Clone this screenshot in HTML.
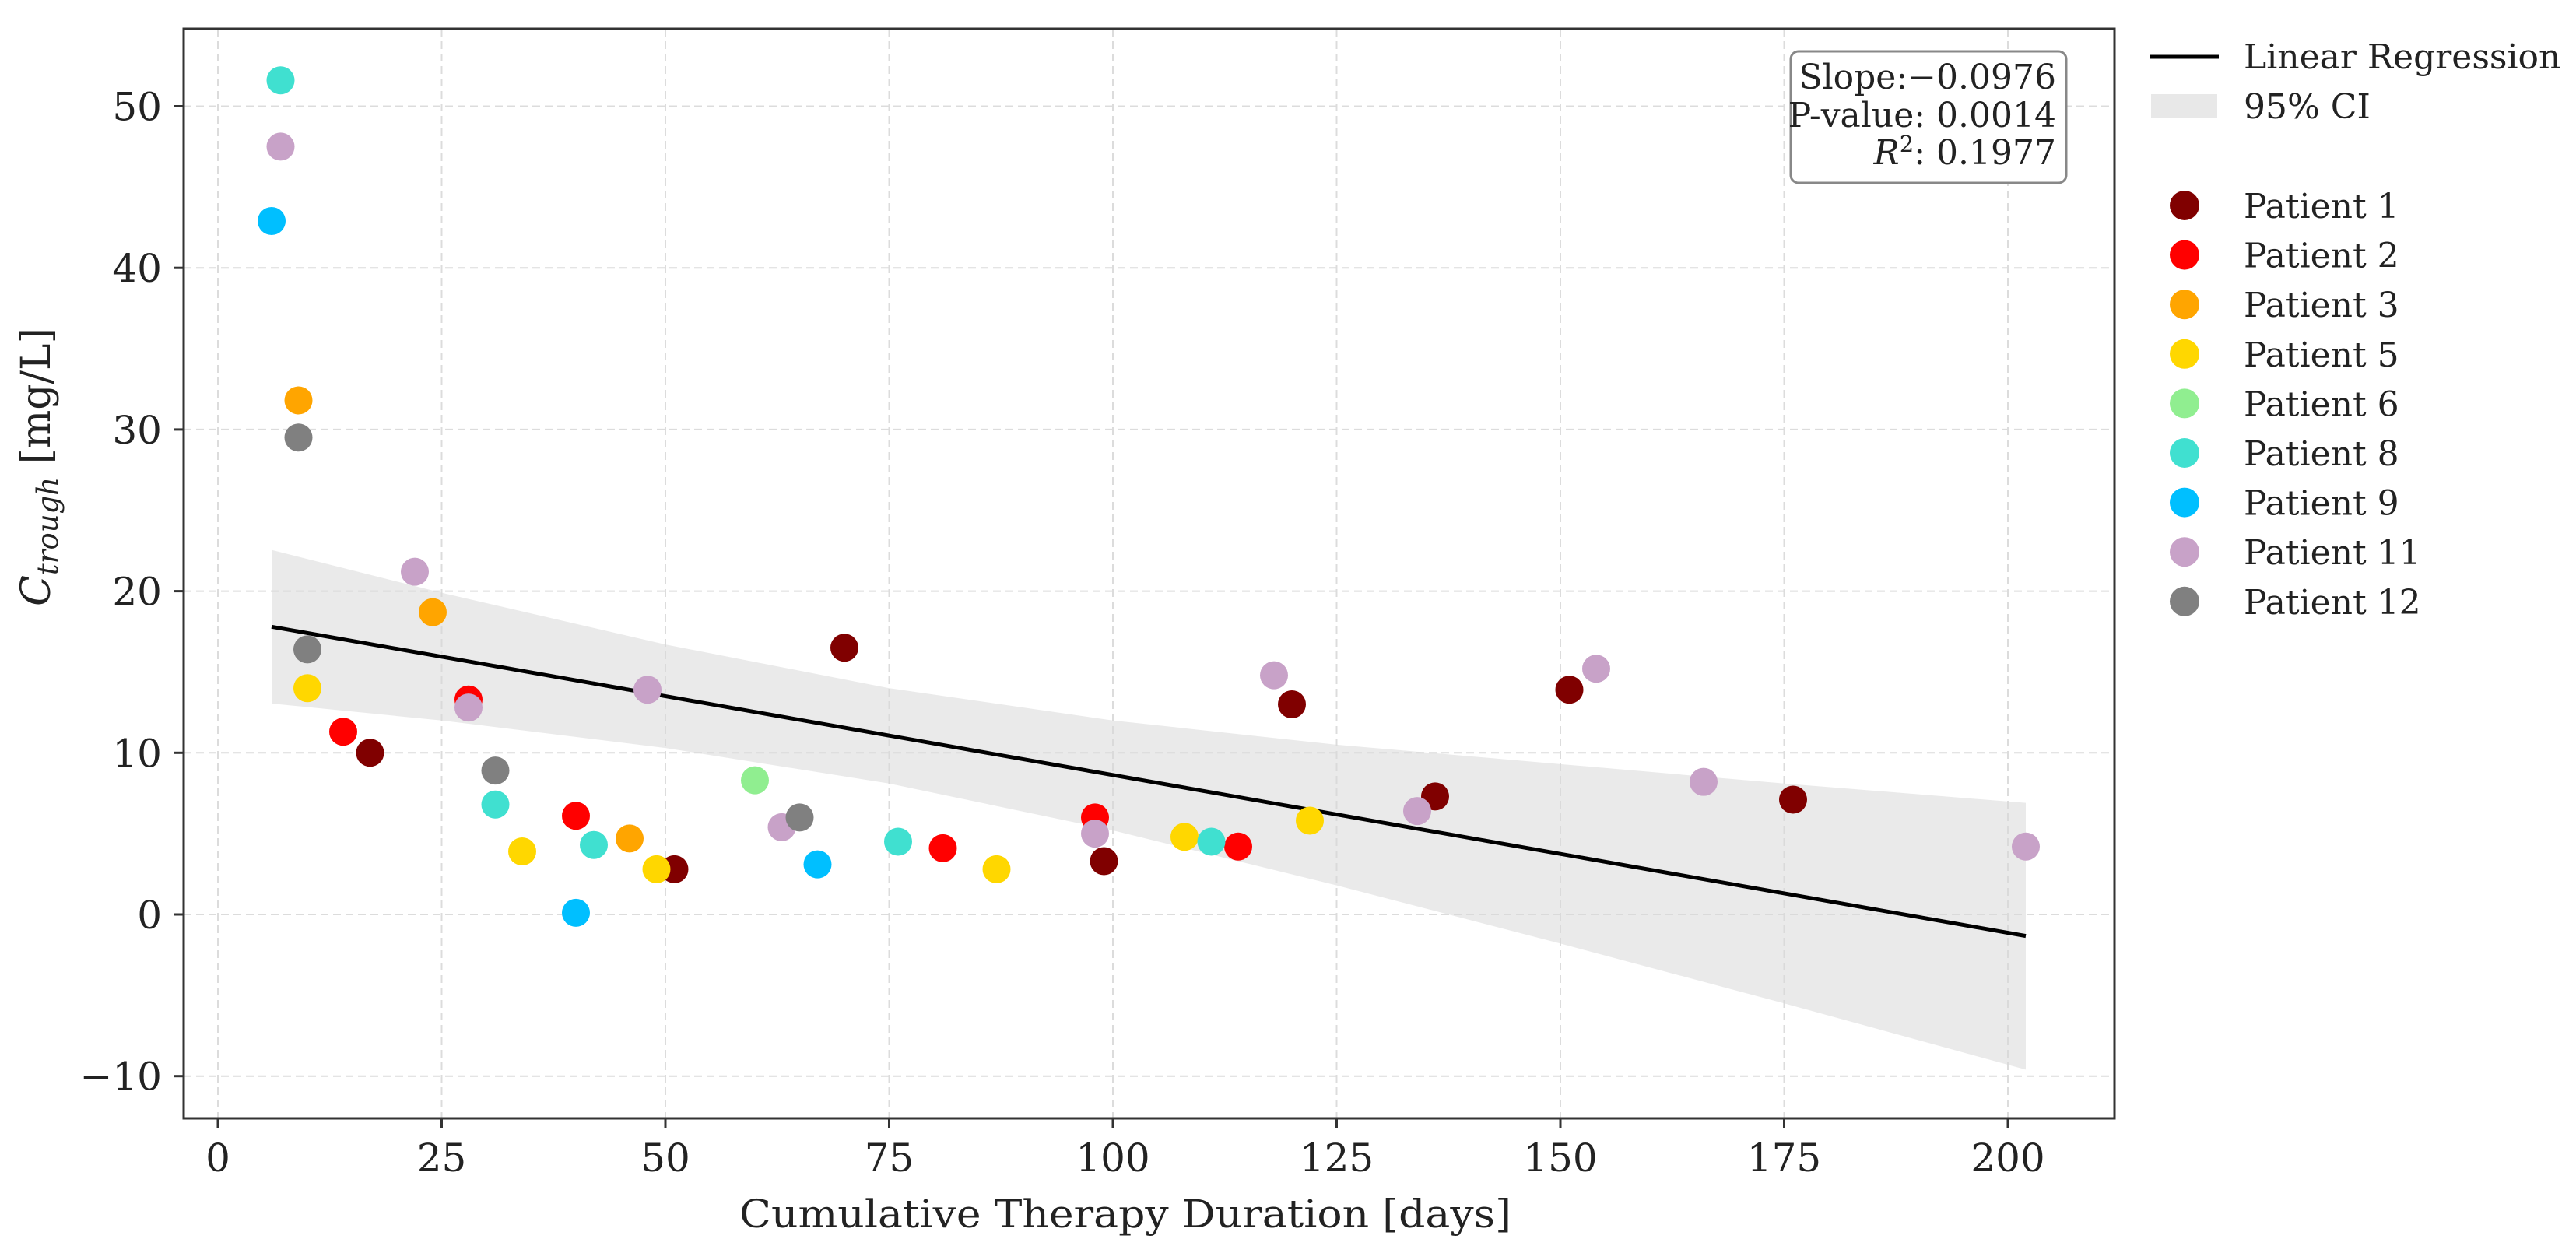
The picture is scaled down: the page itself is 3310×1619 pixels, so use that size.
<!DOCTYPE html>
<html><head><meta charset="utf-8"><style>
html,body{margin:0;padding:0;background:#fff;}
svg{display:block;}
text{font-family:"DejaVu Serif","Liberation Serif",serif;fill:#222;}
</style></head><body>
<svg id="chart" width="3310" height="1619" viewBox="0 0 3310 1619" xmlns="http://www.w3.org/2000/svg">
<g id="grid"></g>
<g id="band"></g>
<g id="reg"></g>
<g id="pts"></g>
<g id="axes"></g>
<g id="legend"></g>
</svg>
<script>
const xTicks = [0, 25, 50, 75, 100, 125, 150, 175, 200];
const yTicks = [-10, 0, 10, 20, 30, 40, 50];
const patients = ["Patient 1","Patient 2","Patient 3","Patient 5","Patient 6","Patient 8","Patient 9","Patient 11","Patient 12"];
const colors = ["#800000","#ff0000","#ffa500","#ffd700","#90ee90","#40e0d0","#00bfff","#c8a2c8","#808080"];
const p1x=[17,51,70,99,120,136,151,176], p1y=[10,2.8,16.5,3.3,13,7.3,13.9,7.1];
const p2x=[14,28,40,81,98,114], p2y=[11.3,13.3,6.1,4.1,6.0,4.2];
const p3x=[9,24,46], p3y=[31.8,18.7,4.7];
const p5x=[10,34,49,87,108,122], p5y=[14,3.9,2.8,2.8,4.8,5.8];
const p6x=[60], p6y=[8.3];
const p8x=[7,31,42,76,111], p8y=[51.6,6.8,4.3,4.5,4.5];
const p9x=[6,40,67], p9y=[42.9,0.1,3.1];
const p11x=[7,22,28,48,63,98,118,134,154,166,202], p11y=[47.5,21.2,12.8,13.9,5.4,5.0,14.8,6.4,15.2,8.2,4.2];
const p12x=[9,10,31,65], p12y=[29.5,16.4,8.9,6.0];
const regX=[6,202], regY=[17.8,-1.33];
const ciX=[6,25,50,75,100,125,150,175,202];
const ciUpper=[22.55,19.9,16.7,14.0,12.0,10.5,9.3,8.1,6.9];
const ciLower=[13.05,12.0,10.3,8.1,5.2,1.8,-1.8,-5.5,-9.6];
const statLines=["Slope:\u22120.0976","P-value: 0.0014"];

const NS="http://www.w3.org/2000/svg";
const L=236,R=2717,T=37,B=1437;
const sx=v=>280+v*11.5;
const sy=v=>1175-v*20.77;
function mk(tag,attrs,parent){const e=document.createElementNS(NS,tag);for(const k in attrs)e.setAttribute(k,attrs[k]);parent.appendChild(e);return e;}
const grid=document.getElementById('grid'),axes=document.getElementById('axes');
mk('rect',{x:L,y:T,width:R-L,height:B-T,fill:'#fff'},grid);
xTicks.forEach(t=>{
  const g=mk('line',{x1:sx(t),x2:sx(t),y1:T,y2:B,stroke:'#dcdcdc','stroke-width':2,'stroke-dasharray':'10,6'},grid);
  
  
  mk('line',{x1:sx(t),x2:sx(t),y1:B,y2:B+13,stroke:'#333','stroke-width':3},axes);
  const tx=mk('text',{x:sx(t),y:1505,'text-anchor':'middle','font-size':50},axes);
  tx.textContent=t;
  
  
});
yTicks.forEach(t=>{
  const g=mk('line',{x1:L,x2:R,y1:sy(t),y2:sy(t),stroke:'#dcdcdc','stroke-width':2,'stroke-dasharray':'10,6'},grid);
  
  
  mk('line',{x1:L-13,x2:L,y1:sy(t),y2:sy(t),stroke:'#333','stroke-width':3},axes);
  const tx=mk('text',{x:208,y:sy(t)+18,'text-anchor':'end','font-size':50},axes);
  tx.textContent=t<0?'\u2212'+Math.abs(t):t;
  
  
});
mk('rect',{x:L,y:T,width:R-L,height:B-T,fill:'none',stroke:'#333','stroke-width':3},axes);
let d='M'+ciX.map((x,i)=>sx(x)+','+sy(ciUpper[i])).join(' L');
for(let i=ciX.length-1;i>=0;i--)d+=' L'+sx(ciX[i])+','+sy(ciLower[i]);
const band=mk('path',{d:d+'Z',fill:'#d9d9d9','fill-opacity':0.55},document.getElementById('band'));


const rl=mk('line',{x1:sx(regX[0]),y1:sy(regY[0]),x2:sx(regX[1]),y2:sy(regY[1]),stroke:'#000','stroke-width':5},document.getElementById('reg'));


const series=[[p1x,p1y],[p2x,p2y],[p3x,p3y],[p5x,p5y],[p6x,p6y],[p8x,p8y],[p9x,p9y],[p11x,p11y],[p12x,p12y]];
const pts=document.getElementById('pts');
series.forEach((s,i)=>{
  s[0].forEach((x,j)=>{
    const c=mk('circle',{cx:sx(x),cy:sy(s[1][j]),r:18,fill:colors[i]},pts);
    
    
  });
});
const xl=mk('text',{x:1446,y:1577,'text-anchor':'middle','font-size':50,textLength:992,lengthAdjust:'spacingAndGlyphs'},axes);
xl.textContent='Cumulative Therapy Duration [days]';


const yl=mk('text',{transform:'translate(64,600) rotate(-90)','text-anchor':'middle','font-size':52},axes);
yl.innerHTML='<tspan font-style="italic">C</tspan><tspan font-style="italic" font-size="37" dy="10">trough</tspan><tspan dy="-10"> [mg/L]</tspan>';


const sb=mk('g',{},axes);


mk('rect',{x:2301,y:66,width:354,height:169,rx:10,fill:'#fff',stroke:'#888','stroke-width':3},sb);
statLines.forEach((s,i)=>{const t=mk('text',{x:2642,y:114+i*49,'text-anchor':'end','font-size':44},sb);t.textContent=s;});
const r2=mk('text',{x:2642,y:211,'text-anchor':'end','font-size':44},sb);
r2.innerHTML='<tspan font-style="italic">R</tspan><tspan font-size="29" dy="-16">2</tspan><tspan dy="16">: 0.1977</tspan>';
const lg=document.getElementById('legend');
mk('line',{x1:2763,x2:2851,y1:73,y2:73,stroke:'#000','stroke-width':5},lg);
let t=mk('text',{x:2883,y:88,'font-size':44},lg);t.textContent='Linear Regression';
mk('rect',{x:2764,y:121,width:85,height:31,fill:'#e8e8e8'},lg);
t=mk('text',{x:2883,y:152,'font-size':44},lg);t.textContent='95% CI';
patients.forEach((p,i)=>{
  const y=264+i*63.6;
  const c=mk('circle',{cx:2807,cy:y,r:19,fill:colors[i]},lg);
  
  
  const tx=mk('text',{x:2883,y:y+16,'font-size':44},lg);
  tx.textContent=p;
  
  
});
</script>
</body></html>
